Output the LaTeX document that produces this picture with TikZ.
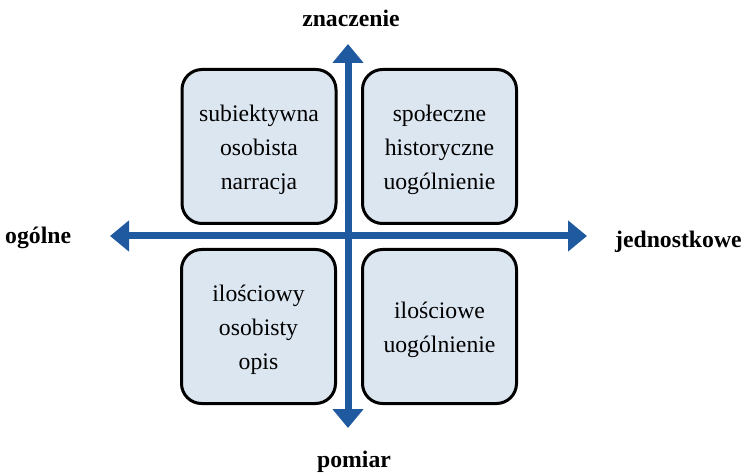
\documentclass[tikz,border=0pt]{standalone}
\usepackage{fontspec}
\setmainfont{Liberation Serif}
\usetikzlibrary{arrows.meta}
\definecolor{axisblue}{RGB}{31,89,160}
\definecolor{boxfill}{RGB}{220,230,241}
\tikzset{
  quadbox/.style={draw=black, line width=3bp, fill=boxfill, rounded corners=20bp,
    minimum width=154bp, minimum height=154bp, inner sep=0pt},
  quadtext/.style={align=center, inner sep=0pt,
    font=\fontsize{23.8pt}{34bp}\selectfont},
  axislabel/.style={inner sep=0pt, font=\fontsize{23.8pt}{28pt}\selectfont\bfseries},
  axis/.style={draw=axisblue, line width=7bp,
    {Triangle[length=19bp,width=30bp]}-{Triangle[length=19bp,width=30bp]}}
}
\begin{document}
\begin{tikzpicture}[x=1bp,y=-1bp]
  \useasboundingbox (0,0) rectangle (744,474);

  % axis end points
  \coordinate (axL) at (110,236);
  \coordinate (axR) at (587,236);
  \coordinate (axT) at (348,44);
  \coordinate (axB) at (348,428);

  % quadrant boxes
  \node[quadbox] (bTL) at (259,146.5) {};
  \node[quadbox] (bTR) at (439.5,146.5) {};
  \node[quadbox] (bBL) at (258.5,326.5) {};
  \node[quadbox] (bBR) at (439.5,326.5) {};

  % axes drawn over the boxes
  \draw[axis] (axL) -- (axR);
  \draw[axis] (axB) -- (axT);

  % box texts
  \node[quadtext] (tTL) at ([yshift=-3bp]bTL.center) {subiektywna\\osobista\\narracja};
  \node[quadtext] (tTR) at ([yshift=-3bp]bTR.center) {społeczne\\historyczne\\uogólnienie};
  \node[quadtext] (tBL) at ([yshift=-3bp]bBL.center) {ilościowy\\osobisty\\opis};
  \node[quadtext] (tBR) at ([yshift=-3bp]bBR.center) {ilościowe\\uogólnienie};

  % axis labels
  \node[axislabel, anchor=base west] (lL) at (5,244) {ogólne};
  \node[axislabel, anchor=base west] (lR) at (615,248) {jednostkowe};
  \node[axislabel, anchor=base] (lT) at (351,27) {znaczenie};
  \node[axislabel, anchor=base] (lB) at (354,467) {pomiar};
\end{tikzpicture}
\end{document}
